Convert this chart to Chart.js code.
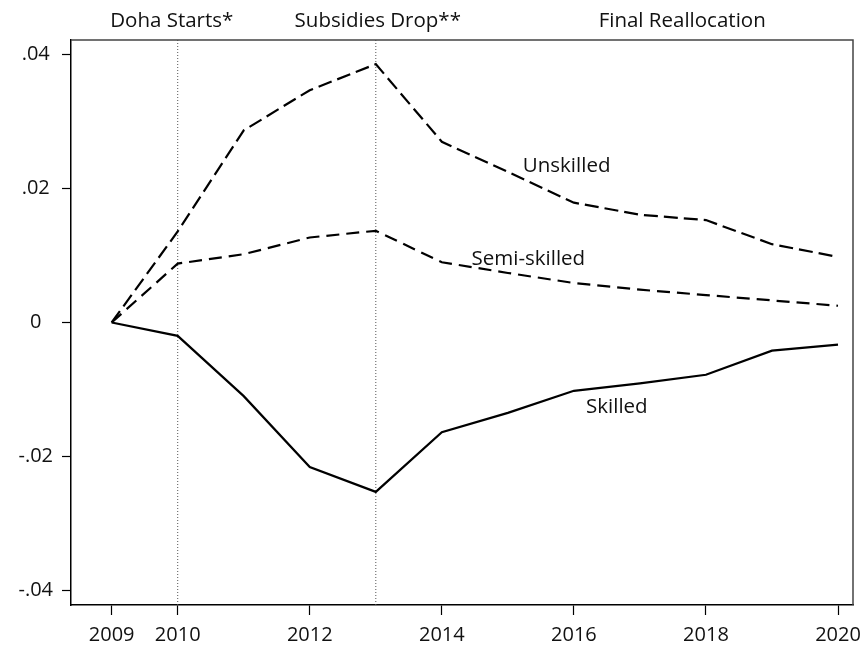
<!DOCTYPE html>
<html>
<head>
<meta charset="utf-8">
<script src="https://cdn.jsdelivr.net/npm/chart.js@4/dist/chart.umd.min.js"></script>
<style>
  html, body { margin: 0; padding: 0; background: #fff; }
  #wrap { width: 864px; height: 646px; }
</style>
</head>
<body>
<div id="wrap"><canvas id="chart" width="864" height="646"></canvas></div>
<script>
// data
const years = [2009, 2010, 2011, 2012, 2013, 2014, 2015, 2016, 2017, 2018, 2019, 2020];
const unskilled = [0, 0.0136, 0.0287, 0.0347, 0.0386, 0.0270, 0.0225, 0.0179, 0.0161, 0.0153, 0.0117, 0.0098];
const semiSkilled = [0, 0.0088, 0.0102, 0.0127, 0.0137, 0.0090, 0.0074, 0.0059, 0.0049, 0.0041, 0.0033, 0.0025];
const skilled = [0, -0.0020, -0.0110, -0.0216, -0.0253, -0.0164, -0.0135, -0.0102, -0.0091, -0.0078, -0.0042, -0.0033];

const xTicks = [2009, 2010, 2012, 2014, 2016, 2018, 2020];
const yTicks = [-0.04, -0.02, 0, 0.02, 0.04];
const yTickLabels = ['-.04', '-.02', '0', '.02', '.04'];

const eventYears = [2010, 2013];
const topLabels = ['Doha Starts*', 'Subsidies Drop**', 'Final Reallocation'];
const topLabelYears = [2009.91, 2013.03, 2017.64];
const seriesNames = ['Unskilled', 'Semi-skilled', 'Skilled'];

const X_MIN = 2008.384, X_MAX = 2020.227;
const Y_MIN = -0.0422, Y_MAX = 0.0422;
const FONT = '"Open Sans", Lato, sans-serif';

// where the in-plot series names sit (data coords)
const nameSpots = [
  { x: 2015.89, y: 0.0233 },
  { x: 2015.31, y: 0.0095 },
  { x: 2016.65, y: -0.0126 }
];

function pts(vals) {
  return vals.map((v, i) => ({ x: years[i], y: v }));
}

const eventSets = eventYears.map(yr => ({
  data: [{ x: yr, y: Y_MIN }, { x: yr, y: Y_MAX }],
  borderColor: '#555',
  borderWidth: 1,
  borderDash: [1, 2],
  pointRadius: 0,
  fill: false
}));

const annotate = {
  id: 'annotate',
  afterDatasetsDraw(chart) {
    const ctx = chart.ctx;
    const a = chart.chartArea;
    const xs = chart.scales.x, ys = chart.scales.y;
    ctx.save();
    // frame top / right
    ctx.strokeStyle = '#444';
    ctx.lineWidth = 1.5;
    ctx.beginPath();
    ctx.moveTo(a.left, a.top);
    ctx.lineTo(a.right, a.top);
    ctx.lineTo(a.right, a.bottom);
    ctx.stroke();

    ctx.fillStyle = '#111';
    ctx.font = '20.5px ' + FONT;
    ctx.textAlign = 'center';
    ctx.textBaseline = 'alphabetic';
    topLabels.forEach((t, i) => {
      ctx.fillText(t, xs.getPixelForValue(topLabelYears[i]), 27);
    });
    ctx.textBaseline = 'middle';
    seriesNames.forEach((t, i) => {
      ctx.fillText(t, xs.getPixelForValue(nameSpots[i].x), ys.getPixelForValue(nameSpots[i].y));
    });
    ctx.restore();
  }
};

new Chart(document.getElementById('chart'), {
  type: 'line',
  data: {
    datasets: [
      { label: seriesNames[0], data: pts(unskilled), borderColor: '#000', borderWidth: 2.2, borderDash: [14, 6], pointRadius: 0, tension: 0, fill: false },
      { label: seriesNames[1], data: pts(semiSkilled), borderColor: '#000', borderWidth: 2.2, borderDash: [13, 7], pointRadius: 0, tension: 0, fill: false },
      { label: seriesNames[2], data: pts(skilled), borderColor: '#000', borderWidth: 2.2, pointRadius: 0, tension: 0, fill: false },
      ...eventSets
    ]
  },
  options: {
    responsive: false,
    animation: false,
    layout: { padding: { top: 40, right: 11, left: 0, bottom: 0 } },
    plugins: { legend: { display: false }, tooltip: { enabled: false } },
    scales: {
      x: {
        type: 'linear',
        min: X_MIN,
        max: X_MAX,
        afterBuildTicks: s => { s.ticks = xTicks.map(v => ({ value: v })); },
        afterFit: s => { s.height = 41; s.paddingLeft = 0; s.paddingRight = 0; },
        ticks: {
          color: '#111',
          font: { family: FONT, size: 20 },
          padding: 8,
          maxRotation: 0,
          autoSkip: false,
          callback: v => String(v)
        },
        grid: { display: true, drawOnChartArea: false, drawTicks: true, tickLength: 10, tickColor: '#000', tickWidth: 1.2 },
        border: { display: true, color: '#000', width: 1.5 }
      },
      y: {
        min: Y_MIN,
        max: Y_MAX,
        afterBuildTicks: s => { s.ticks = yTicks.map(v => ({ value: v })); },
        afterFit: s => { s.width = 71; s.paddingTop = 0; s.paddingBottom = 0; },
        ticks: {
          color: '#111',
          font: { family: FONT, size: 20 },
          padding: 9,
          crossAlign: 'center',
          autoSkip: false,
          callback: v => {
            const i = yTicks.findIndex(t => Math.abs(t - v) < 1e-9);
            return i >= 0 ? yTickLabels[i] : '';
          }
        },
        grid: { display: true, drawOnChartArea: false, drawTicks: true, tickLength: 9, tickColor: '#000', tickWidth: 1.2 },
        border: { display: true, color: '#000', width: 1.5 }
      }
    }
  },
  plugins: [annotate]
});
</script>
</body>
</html>
